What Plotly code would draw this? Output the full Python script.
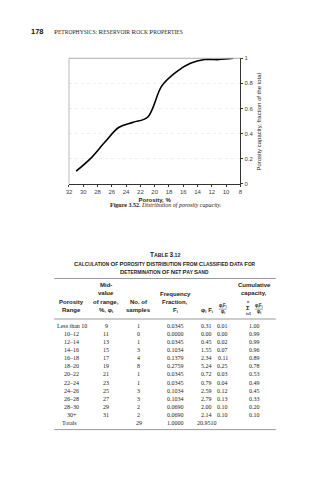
import plotly.graph_objects as go

# ---------------- data ----------------
ranges = ["Less than 10", "10–12", "12–14", "14–16", "16–18", "18–20",
          "20–22", "22–24", "24–26", "26–28", "28–30", "30+"]
midvalues = [9, 11, 13, 15, 17, 19, 21, 23, 25, 27, 29, 31]
samples = [1, 0, 1, 3, 4, 8, 1, 1, 3, 3, 2, 2]
freq = ["0.0345", "0.0000", "0.0345", "0.1034", "0.1379", "0.2759",
        "0.0345", "0.0345", "0.1034", "0.1034", "0.0690", "0.0690"]
phiF = ["0.31", "0.00", "0.45", "1.55", "2.34", "5.24",
        "0.72", "0.79", "2.59", "2.79", "2.00", "2.14"]
ratio = ["0.01", "0.00", "0.02", "0.07", "0.11", "0.25",
         "0.03", "0.04", "0.12", "0.13", "0.10", "0.10"]
cumulative = [1.00, 0.99, 0.99, 0.96, 0.89, 0.78, 0.53, 0.49, 0.45, 0.33, 0.20, 0.10]
totals = ["Totals", "", "29", "1.0000", "20.9510", "", ""]
x_ticks = [32, 30, 28, 26, 24, 22, 20, 18, 16, 14, 12, 10, 8]
y_ticks = [0, 0.2, 0.4, 0.6, 0.8, 1]
y_ticktext = ["0", "0.2", "0.4", "0.6", "0.8", "1"]

W, H = 333, 480
SERIF = "Liberation Serif"
SANS = "Liberation Sans"


def px(x):
    return x / W


def py(y):
    return 1 - y / H


fig = go.Figure()
fig.add_trace(go.Scatter(
    x=midvalues, y=cumulative, mode="lines",
    line=dict(color="black", width=1.6, shape="spline", smoothing=1.0),
    showlegend=False, hoverinfo="skip"))

PL, PR, PT, PB = 67, 241, 56, 183

fig.update_layout(
    width=W, height=H, margin=dict(l=0, r=0, t=0, b=0),
    paper_bgcolor="white", plot_bgcolor="white",
    xaxis=dict(domain=[px(PL), px(PR)], range=[32, 8], tickvals=x_ticks,
               ticks="outside", ticklen=2, tickwidth=0.6, tickcolor="#333",
               showline=True, linecolor="#333", linewidth=0.8,
               showgrid=False, zeroline=False,
               tickfont=dict(family=SANS, size=6, color="#444"),
               title=dict(text="<b>Porosity, %</b>", standoff=3,
                          font=dict(family=SANS, size=6, color="#222"))),
    yaxis=dict(domain=[py(PB), py(PT)], range=[0, 1], side="right",
               anchor="x", tickvals=y_ticks, ticktext=y_ticktext,
               ticks="outside", ticklen=2, tickwidth=0.6, tickcolor="#333",
               showline=True, linecolor="#333", linewidth=0.8,
               showgrid=True, gridcolor="#eeeeee", griddash="dot", gridwidth=0.6,
               zeroline=False,
               tickfont=dict(family=SANS, size=6, color="#444")),
)

# gray top and left frame lines
fig.add_shape(type="line", xref="paper", yref="paper",
              x0=px(PL), x1=px(PR), y0=py(PT), y1=py(PT),
              line=dict(color="#999", width=0.8))
fig.add_shape(type="line", xref="paper", yref="paper",
              x0=px(PL), x1=px(PL), y0=py(PT), y1=py(PB),
              line=dict(color="#aaa", width=0.8))

ann = []


def text(x, y, s, size=6, family=SERIF, color="#222", xanchor="center", angle=0):
    ann.append(dict(x=px(x), y=py(y), xref="paper", yref="paper", text=s,
                    showarrow=False, xanchor=xanchor, yanchor="middle",
                    textangle=angle,
                    font=dict(family=family, size=size, color=color)))


def smallcaps(s, big, small):
    out = []
    for word in s.split(" "):
        if not word:
            continue
        first, rest = word[0], word[1:]
        out.append('<span style="font-size:%gpx">%s</span>%s' % (big, first.upper(), rest.upper()))
    return " ".join(out)


# y-axis title
text(259, 120, "Porosity capacity, fraction of the total", size=6, family=SANS, color="#222", angle=-90)

# page header
text(26, 29, "<b>178</b>", size=7.5, family=SANS, color="#111", xanchor="left")
text(50, 29, smallcaps("PETROPHYSICS: RESERVOIR ROCK PROPERTIES", 7, 5.6), size=5.6,
     family=SERIF, color="#222", xanchor="left")

# caption
text(165, 205, "<b>Figure 3.52.</b> <i>Distribution of porosity capacity.</i>", size=6,
     family=SERIF, color="#222")

# table titles
text(164, 255, "<b>" + smallcaps("Table 3.12", 6.5, 5.2) + "</b>", size=5.2, family=SANS, color="#222")
text(164, 264, "<b>" + smallcaps("Calculation of Porosity Distribution from Classified Data for", 6, 4.8) + "</b>",
     size=4.8, family=SANS, color="#222")
text(164, 272, "<b>" + smallcaps("Determination of Net Pay Sand", 6, 4.8) + "</b>",
     size=4.8, family=SANS, color="#222")

TL, TR = 52, 277
for yy in (279, 320, 432):
    fig.add_shape(type="line", xref="paper", yref="paper",
                  x0=px(TL), x1=px(TR), y0=py(yy), y1=py(yy),
                  line=dict(color="#555", width=0.6))

cols = [70, 105, 138, 175, 207, 223, 255]
hs = 6
hf = SANS
text(cols[1], 286, "<b>Mid-</b>", hs, hf)
text(cols[6], 286, "<b>Cumulative</b>", hs, hf)
text(cols[1], 294, "<b>value</b>", hs, hf)
text(cols[3], 295, "<b>Frequency</b>", hs, hf)
text(cols[6], 294, "<b>capacity,</b>", hs, hf)
text(cols[0], 303, "<b>Porosity</b>", hs, hf)
text(cols[1], 303, "<b>of range,</b>", hs, hf)
text(cols[2], 303, "<b>No. of</b>", hs, hf)
text(cols[3], 303, "<b>Fraction,</b>", hs, hf)
text(cols[0], 311, "<b>Range</b>", hs, hf)
text(cols[1], 311, "<b>%, φ<sub>i</sub></b>", hs, hf)
text(cols[2], 311, "<b>samples</b>", hs, hf)
text(cols[3], 311, "<b>F<sub>i</sub></b>", hs, hf)
text(cols[4], 311, "<b>φ<sub>i</sub> F<sub>i</sub></b>", hs, hf)
text(cols[5], 307, "<b>φ<sub>i</sub>F<sub>i</sub></b>", 4.5, hf)
fig.add_shape(type="line", xref="paper", yref="paper",
              x0=px(cols[5] - 4), x1=px(cols[5] + 4), y0=py(310), y1=py(310),
              line=dict(color="#333", width=0.5))
text(cols[5], 313, "<b>φ<sub>t</sub></b>", 4.5, hf)
# sum symbol
text(cols[6] - 6, 303, "<b>n</b>", 3.5, hf)
text(cols[6] - 6, 308.5, "<b>Σ</b>", 6, hf)
text(cols[6] - 6, 315, "<b>i=1</b>", 3.5, hf)
text(cols[6] + 5, 307, "<b>φ<sub>i</sub>F<sub>i</sub></b>", 4.5, hf)
fig.add_shape(type="line", xref="paper", yref="paper",
              x0=px(cols[6] + 1), x1=px(cols[6] + 9), y0=py(310), y1=py(310),
              line=dict(color="#333", width=0.5))
text(cols[6] + 5, 313, "<b>φ<sub>t</sub></b>", 4.5, hf)

ds = 6
row0, dy = 327, 8.2
for i in range(len(ranges)):
    y = row0 + i * dy
    vals = [ranges[i], str(midvalues[i]), str(samples[i]), freq[i], phiF[i], ratio[i],
            "%.2f" % cumulative[i]]
    for c, v in zip(cols, vals):
        text(c, y, v, ds, SERIF)

for c, v in zip(cols, totals):
    if v:
        text(c if v != "Totals" else 68, 425, v, ds, SERIF)

fig.update_layout(annotations=ann)
fig.write_html("out.html")
